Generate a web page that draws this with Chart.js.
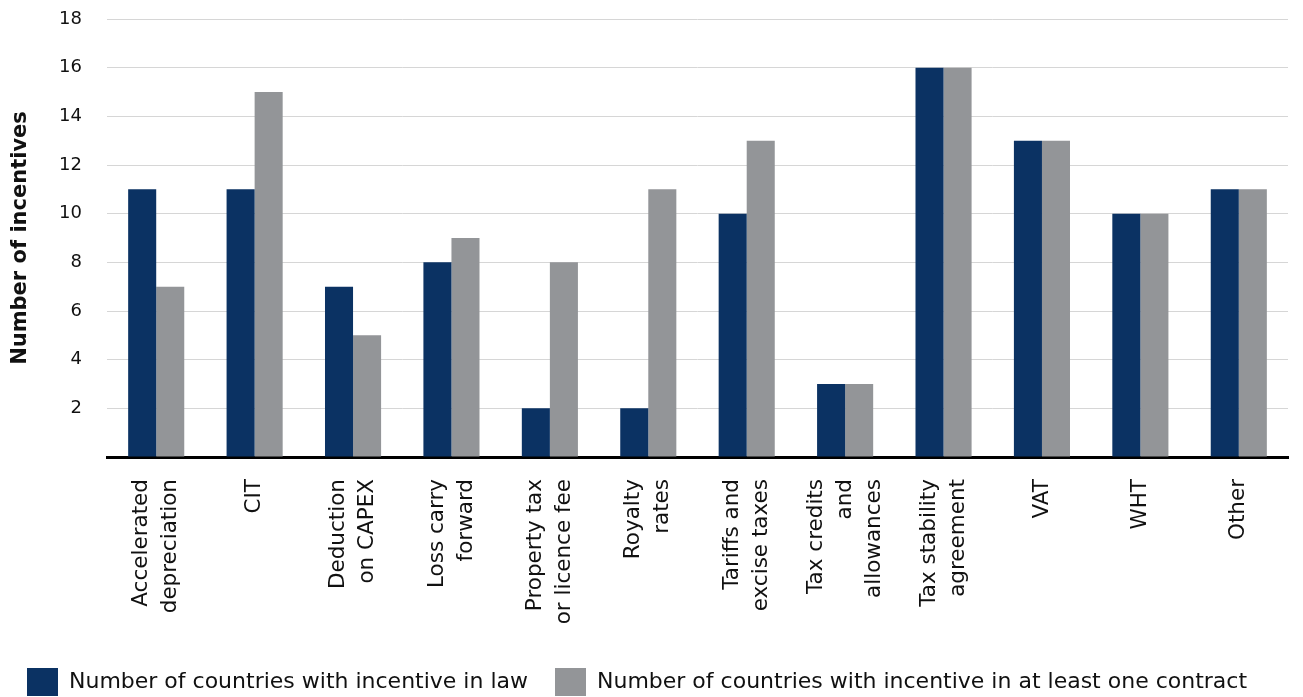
<!DOCTYPE html>
<html>
<head>
<meta charset="utf-8">
<script src="https://cdn.jsdelivr.net/npm/chart.js@4.4.1/dist/chart.umd.min.js"></script>
<style>
  html, body { margin: 0; padding: 0; background: #fff; overflow: hidden; }
  #wrap { width: 1303px; height: 706px; position: relative; }
</style>
</head>
<body>
<div id="wrap"><canvas id="c"></canvas></div>
<script>
const categories = [
  ['Accelerated', 'depreciation'],
  ['CIT'],
  ['Deduction', 'on CAPEX'],
  ['Loss carry', 'forward'],
  ['Property tax', 'or licence fee'],
  ['Royalty', 'rates'],
  ['Tariffs and', 'excise taxes'],
  ['Tax credits', 'and', 'allowances'],
  ['Tax stability', 'agreement'],
  ['VAT'],
  ['WHT'],
  ['Other']
];
const inLaw = [11, 11, 7, 8, 2, 2, 10, 3, 16, 13, 10, 11];
const inContract = [7, 15, 5, 9, 8, 11, 13, 3, 16, 13, 10, 11];
const seriesNames = ['Number of countries with incentive in law', 'Number of countries with incentive in at least one contract'];
const yTicks = [2, 4, 6, 8, 10, 12, 14, 16, 18];
const yTitle = 'Number of incentives';

const FONT = "'DejaVu Sans', 'Open Sans', sans-serif";
const NAVY = '#0b3263';
const GREY = '#939598';

const xLabelPlugin = {
  id: 'xLabels',
  afterDraw(chart) {
    const scale = chart.scales.x;
    const ctx = chart.ctx;
    const fontSize = 21.5;
    const lh = 29;
    ctx.save();
    ctx.font = fontSize + 'px ' + FONT;
    ctx.fillStyle = '#111';
    ctx.textAlign = 'right';
    ctx.textBaseline = 'middle';
    chart.data.labels.forEach((lines, i) => {
      const x = scale.getPixelForTick(i);
      const y = scale.top + 22;
      ctx.save();
      ctx.translate(x, y);
      ctx.rotate(-Math.PI / 2);
      const n = lines.length;
      lines.forEach((line, j) => {
        ctx.fillText(line, 0, (j - (n - 1) / 2) * lh);
      });
      ctx.restore();
    });
    ctx.restore();
  }
};

new Chart(document.getElementById('c'), {
  type: 'bar',
  data: {
    labels: categories,
    datasets: [
      { label: seriesNames[0], data: inLaw, backgroundColor: NAVY, borderWidth: 0 },
      { label: seriesNames[1], data: inContract, backgroundColor: GREY, borderWidth: 0 }
    ]
  },
  options: {
    responsive: true,
    maintainAspectRatio: false,
    animation: false,
    layout: { padding: { top: 19, right: 15, left: 0, bottom: 0 } },
    datasets: { bar: { barPercentage: 1, categoryPercentage: 0.57 } },
    plugins: {
      tooltip: { enabled: false },
      legend: {
        position: 'bottom',
        align: 'start',
        labels: {
          boxWidth: 31,
          boxHeight: 28,
          padding: 27,
          color: '#111',
          font: { family: FONT, size: 22 }
        }
      }
    },
    scales: {
      x: {
        grid: { display: false },
        border: { display: true, color: '#000', width: 3 },
        ticks: { display: false },
        afterFit(scale) { scale.height = 184; }
      },
      y: {
        min: 0,
        max: 18,
        afterBuildTicks(scale) {
          scale.ticks = [0].concat(yTicks).map(v => ({ value: v }));
        },
        grid: { color: '#d6d6d6', lineWidth: 1, drawTicks: false },
        border: { display: false },
        ticks: {
          padding: 25,
          color: '#111',
          font: { family: FONT, size: 18 },
          callback: (v) => (v === 0 ? '' : v)
        },
        title: {
          display: true,
          text: yTitle,
          color: '#111',
          padding: { top: 8, bottom: 0 },
          font: { family: FONT, size: 21, weight: 'bold' }
        },
        afterFit(scale) {
          scale.width = 107;
          scale.paddingTop = 0;
          scale.paddingBottom = 0;
        }
      }
    }
  },
  plugins: [xLabelPlugin]
});
</script>
</body>
</html>
